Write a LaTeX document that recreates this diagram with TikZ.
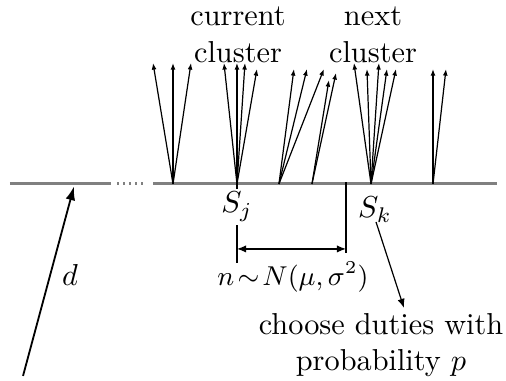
\documentclass[tikz,border=0pt]{standalone}
\usetikzlibrary{arrows.meta}
\begin{document}
\begin{tikzpicture}[>={Latex[length=2.2pt,width=1.6pt]}]
\useasboundingbox (0,-2.285) rectangle (5.87,2.134);
% baseline
\draw[gray,line width=1pt] (0.116,0) -- (1.288,0);
\draw[gray,line width=1pt,dash pattern=on 0.6pt off 1.4pt] (1.357,0) -- (1.682,0);
\draw[gray,line width=1pt] (1.775,0) -- (5.765,0);
\coordinate (a) at (2.007,0);
\coordinate (Sj) at (2.749,0);
\coordinate (c) at (3.236,0);
\coordinate (c2) at (3.619,0);
\coordinate (Sk) at (4.304,0);
\coordinate (f) at (5.023,0);
\coordinate (mid) at (4.014,0);
% duty fans
\foreach \x/\y in {1.775/1.404,2.007/1.404,2.216/1.404}
  \draw[->,thin] (a) -- (\x,\y);
\foreach \x/\y in {2.598/1.404,2.749/1.404,2.842/1.404,2.981/1.334}
  \draw[->,thin] (Sj) -- (\x,\y);
\foreach \x/\y in {3.410/1.334,3.561/1.334,3.758/1.334}
  \draw[->,thin] (c) -- (\x,\y);
\foreach \x/\y in {3.816/1.206,3.898/1.288}
  \draw[->,thin] (c2) -- (\x,\y);
\foreach \x/\y in {4.106/1.404,4.257/1.334,4.396/1.404,4.489/1.334,4.594/1.334}
  \draw[->,thin] (Sk) -- (\x,\y);
\foreach \x/\y in {5.023/1.334,5.174/1.334}
  \draw[->,thin] (f) -- (\x,\y);
% gap between clusters
\coordinate (jend) at (2.749,-0.916);
\coordinate (mend) at (4.014,-0.800);
\draw[thin] (Sj) -- (jend);
\draw[thin] ([yshift=0.5pt]mid) -- (mend);
\draw[<->,thin,>={Latex[length=3pt,width=2.4pt]}] (2.749,-0.754) -- (4.014,-0.754);
\node[fill=white,inner sep=1pt] (lj) at (2.749,-0.267) {\(S_j\)};
\node (lk) at (4.35,-0.30) {\(S_k\)};
\node[font=\small] (gap) at (3.399,-1.079) {\(n\mskip2mu{\sim}\mskip2mu N(\mu,\sigma^2)\)};
\node[align=center] (cur) at (2.761,1.728) {current\\cluster};
\node[align=center] (nxt) at (4.327,1.728) {next\\cluster};
\node[align=center] (pick) at (4.42,-1.873) {choose duties with\\probability \(p\)};
\draw[->,thin,>={Latex[length=3pt,width=2.4pt]}] (4.362,-0.441) -- (4.686,-1.438);
% direction
\coordinate (dtail) at (0.267,-2.227);
\coordinate (dtip) at (0.858,-0.03);
\draw[->,semithick,>={Latex[length=4.5pt,width=3.2pt]}] (dtail) -- (dtip);
\node (d) at (0.812,-1.056) {\(d\)};
\end{tikzpicture}
\end{document}
